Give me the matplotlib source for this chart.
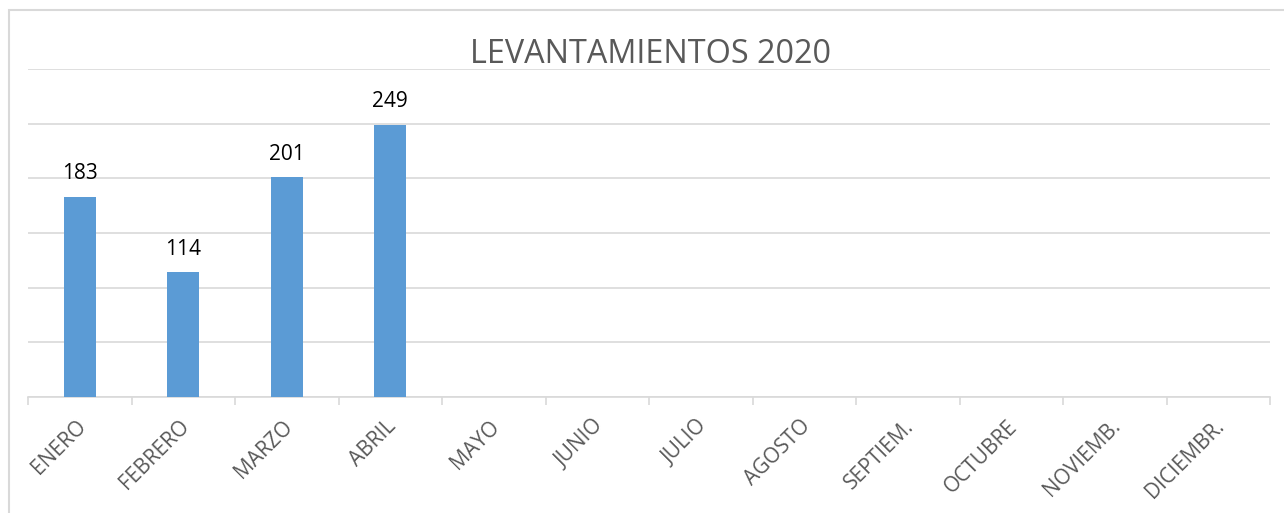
import matplotlib.pyplot as plt
from matplotlib.patches import Rectangle
from matplotlib.transforms import ScaledTranslation

meses = ['ENERO', 'FEBRERO', 'MARZO', 'ABRIL', 'MAYO', 'JUNIO', 'JULIO',
         'AGOSTO', 'SEPTIEM.', 'OCTUBRE', 'NOVIEMB.', 'DICIEMBR.']
levantamientos = [183, 114, 201, 249]
titulo = 'LEVANTAMIENTOS 2020'

plt.rcParams['font.family'] = ['Open Sans', 'DejaVu Sans']

fig = plt.figure(figsize=(12.84, 5.13), dpi=100)
ax = fig.add_axes([28 / 1284, 116 / 513, 1242 / 1284, 328 / 513])

gris = '#D9D9D9'
texto = '#595959'

# marco del gráfico (solo arriba e izquierda visibles)
fig.patches.append(Rectangle((9 / 1284, -0.1), 1.2, (503 / 513) + 0.1,
                             transform=fig.transFigure, fill=False,
                             edgecolor=gris, linewidth=1.5))

x = list(range(len(levantamientos)))
barras = ax.bar(x, levantamientos, width=0.31, color='#5B9BD5', zorder=3)
for xi, v in zip(x, levantamientos):
    ax.annotate(str(v), (xi, v), xytext=(0, 9), textcoords='offset points',
                ha='center', va='bottom', fontsize=15, color='black')

ax.set_xlim(-0.5, len(meses) - 0.5)
ax.set_ylim(0, 300)
ax.set_yticks(range(0, 301, 50))
ax.yaxis.grid(True, color=gris, linewidth=1.2, zorder=0)
ax.tick_params(axis='y', left=False, labelleft=False)

# ticks en los bordes de categoría, etiquetas en el centro
ax.set_xticks([i - 0.5 for i in range(len(meses) + 1)])
ax.set_xticklabels([])
ax.tick_params(axis='x', direction='out', length=6, width=1.2, color=gris)
ax.set_xticks(range(len(meses)), minor=True)
ax.set_xticklabels(meses, minor=True, rotation=45, ha='right', va='center',
                   rotation_mode='anchor', fontsize=15, color=texto)
ax.tick_params(axis='x', which='minor', length=0, pad=19)
desplazamiento = ScaledTranslation(3 / 100, 0, fig.dpi_scale_trans)
for lbl in ax.get_xticklabels(minor=True):
    lbl.set_transform(lbl.get_transform() + desplazamiento)

for s in ['top', 'right', 'left']:
    ax.spines[s].set_visible(False)
ax.spines['bottom'].set_color(gris)
ax.spines['bottom'].set_linewidth(1.2)

fig.text(651 / 1284, 1 - 55 / 513, titulo, ha='center', va='center',
         fontsize=23.3, color=texto)

fig.savefig('out.png', dpi=100)
